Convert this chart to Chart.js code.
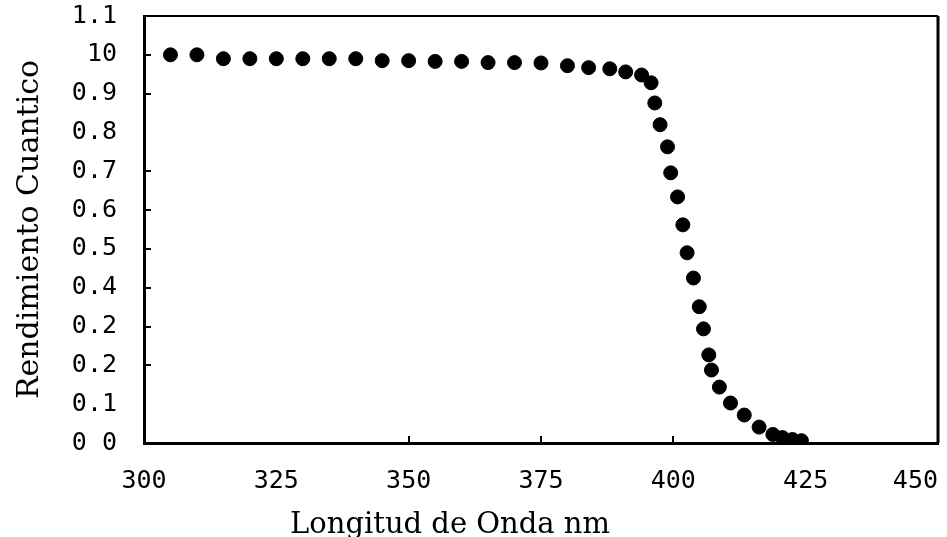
<!DOCTYPE html>
<html>
<head>
<meta charset="utf-8">
<script src="https://cdn.jsdelivr.net/npm/chart.js@4"></script>
<style>
  body { margin: 0; background: #fff; }
  #wrap { width: 947px; height: 537px; }
</style>
</head>
<body>
<div id="wrap"><canvas id="quantumYield"></canvas></div>
<script>
// wavelength (nm) and quantum yield
const wavelengths = [305, 310, 315, 320, 325, 330, 335, 340, 345, 350,
    355, 360, 365, 370, 375, 380, 384, 388, 391, 394,
    395.8, 396.5, 397.5, 398.9, 399.5, 400.8, 401.8, 402.6, 403.8, 404.9,
    405.7, 406.7, 407.2, 408.7, 410.8, 413.4, 416.2, 418.8, 420.6, 422.5, 424.2];
const yieldValues = [1.0, 1.0, 0.99, 0.99, 0.99, 0.99, 0.99, 0.99, 0.985, 0.985,
    0.983, 0.983, 0.98, 0.98, 0.979, 0.972, 0.967, 0.964, 0.956, 0.948,
    0.928, 0.876, 0.82, 0.763, 0.696, 0.634, 0.562, 0.49, 0.425, 0.351,
    0.294, 0.227, 0.188, 0.144, 0.103, 0.072, 0.041, 0.022, 0.014, 0.009, 0.006];

// tick labels as printed (bottom to top for y)
const yTickLabels = ['0 0', '0.1', '0.2', '0.2', '0.4', '0.5', '0.6', '0.7', '0.8', '0.9', '10', '1.1'];
const xTickLabels = ['300', '325', '350', '375', '400', '425', '450'];
const yTickMarks = [1.0, 0.9, 0.7, 0.6, 0.5, 0.4, 0.3, 0.2];
const xTickMarks = [350, 375, 400, 425];

const xTitle = 'Longitud de Onda nm';
const yTitle = 'Rendimiento Cuantico';

const points = wavelengths.map((w, i) => ({ x: w, y: yieldValues[i] }));

const framePlugin = {
    id: 'frame',
    afterDraw(chart) {
        const { ctx, chartArea: a, scales: { x, y } } = chart;
        ctx.save();
        ctx.strokeStyle = '#000';
        ctx.lineWidth = 2;
        ctx.beginPath();
        ctx.moveTo(a.left, a.top);
        ctx.lineTo(a.right, a.top);
        ctx.stroke();
        ctx.lineWidth = 3;
        ctx.beginPath();
        ctx.moveTo(a.right, a.top);
        ctx.lineTo(a.right, a.bottom);
        ctx.stroke();

        // inner tick marks
        ctx.lineWidth = 2;
        ctx.beginPath();
        yTickMarks.forEach(v => {
            const py = Math.round(y.getPixelForValue(v));
            ctx.moveTo(a.left, py);
            ctx.lineTo(a.left + 7, py);
        });
        xTickMarks.forEach(v => {
            const px = Math.round(x.getPixelForValue(v));
            ctx.moveTo(px, a.bottom);
            ctx.lineTo(px, a.bottom - 7);
        });
        ctx.stroke();

        // x tick labels, last one kept inside the frame
        ctx.fillStyle = '#000';
        ctx.font = '25px "DejaVu Sans Mono"';
        ctx.textAlign = 'center';
        ctx.textBaseline = 'alphabetic';
        x.ticks.forEach((t, i) => {
            const label = xTickLabels[i];
            if (!label) return;
            const w = ctx.measureText(label).width;
            let px = x.getPixelForValue(t.value);
            px = Math.min(px, a.right - w / 2);
            ctx.fillText(label, px, 488);
        });

        // x axis title
        ctx.font = '29px "DejaVu Serif"';
        ctx.fillText(xTitle, 450, 533);
        ctx.restore();
    }
};

new Chart(document.getElementById('quantumYield'), {
    type: 'scatter',
    data: {
        datasets: [{
            data: points,
            backgroundColor: '#000',
            borderColor: '#000',
            pointRadius: 7,
            pointHoverRadius: 7,
            showLine: false
        }]
    },
    options: {
        responsive: true,
        maintainAspectRatio: false,
        animation: false,
        layout: { padding: { top: 16, right: 9, left: 0, bottom: 0 } },
        plugins: {
            legend: { display: false },
            tooltip: { enabled: false }
        },
        scales: {
            x: {
                type: 'linear',
                min: 300,
                max: 450,
                ticks: { stepSize: 25, display: false },
                grid: { drawOnChartArea: false, drawTicks: false },
                border: { display: true, color: '#000', width: 3 },
                afterFit: (scale) => { scale.height = 94; }
            },
            y: {
                min: 0,
                max: 1.1,
                ticks: {
                    stepSize: 0.1,
                    padding: 27,
                    color: '#000',
                    font: { family: 'DejaVu Sans Mono', size: 25 },
                    callback: (v, i) => yTickLabels[i]
                },
                grid: { drawOnChartArea: false, drawTicks: false },
                border: { display: true, color: '#000', width: 3 },
                title: {
                    display: true,
                    text: yTitle,
                    color: '#000',
                    font: { family: 'DejaVu Serif', size: 30 },
                    padding: { top: 12, bottom: 0 }
                },
                afterFit: (scale) => {
                    scale.width = 144;
                    scale.paddingTop = 0;
                    scale.paddingBottom = 0;
                }
            }
        }
    },
    plugins: [framePlugin]
});
</script>
</body>
</html>
